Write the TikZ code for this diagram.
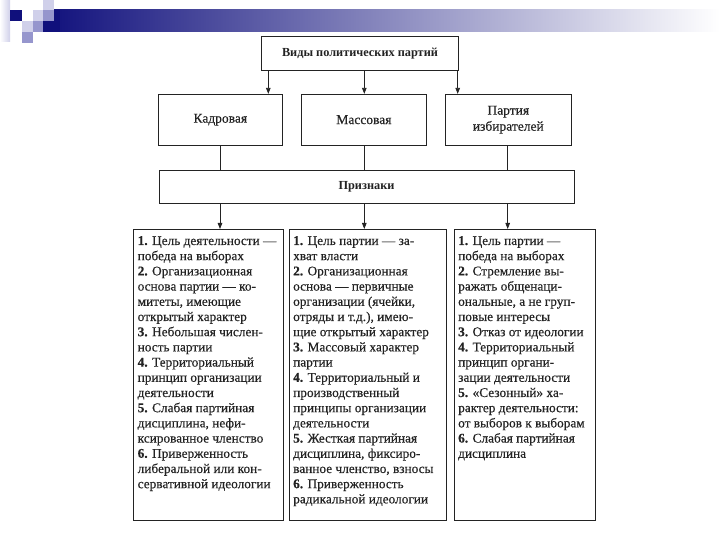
\documentclass[tikz,border=0pt]{standalone}
\usepackage{fontspec}
\setmainfont{Liberation Serif}
\newfontfamily\bodyfont{Liberation Serif}[FakeBold=0.35]
\usetikzlibrary{arrows.meta}
\definecolor{navyC}{RGB}{16,16,124}
\definecolor{lavM}{RGB}{150,150,205}
\definecolor{lavL}{RGB}{208,208,234}
\definecolor{inkC}{RGB}{35,35,35}
\begin{document}
\begin{tikzpicture}[x=1pt,y=-1pt,
  box/.style={draw=inkC, line width=0.9pt, inner sep=0pt, fill=white},
  conn/.style={draw=inkC, line width=0.8pt},
  arr/.style={conn, -{Triangle[length=6pt,width=4.5pt]}},
  head/.style={font=\fontsize{12.3}{14}\selectfont\bfseries, text=inkC},
  lbl/.style={font=\bodyfont\fontsize{13.5}{16}\selectfont, text=inkC, align=center},
  txt/.style={font=\bodyfont\fontsize{13.3}{15.2}\selectfont, text=inkC, align=left, inner sep=0pt, anchor=north west}]
\useasboundingbox (0,0) rectangle (720,540);
\fill[white] (0,0) rectangle (720,540);
% banner
\shade[left color=navyC, right color=white, shading angle=90] (43,10) rectangle (720,32);
\fill[navyC] (43,10) rectangle (60,32);
\shade[left color=white, right color=lavL] (0,0) rectangle (10,42);
\fill[navyC] (10,10) rectangle (22,21);
\fill[lavL] (33,10) rectangle (43,21);
\fill[lavL] (43,0) rectangle (54,10);
\fill[lavM] (43,10) rectangle (54,21);
\fill[lavL] (22,21) rectangle (33,32);
\fill[lavM] (33,21) rectangle (43,32);
\fill[lavM] (22,32) rectangle (33,43);
% top box
\node[box, minimum width=196.6, minimum height=33.3, head] (top) at (360,53.4) {Виды политических партий};
% second row
\node[box, minimum width=124, minimum height=50.7, lbl] (kad) at (220.3,119.7) {Кадровая};
\node[box, minimum width=124.3, minimum height=50.7, lbl] (mas) at (363.9,119.7) {Массовая};
\node[box, minimum width=126.7, minimum height=50.7, lbl] (izb) at (508.3,119.7) {Партия\\избирателей};
% signs box
\node[box, minimum width=415, minimum height=33.3, head] (pri) at (366.5,186.7) {Признаки};
% arrow x positions
\coordinate (a1) at (268.3,0);
\coordinate (a2) at (364.3,0);
\coordinate (a3) at (457.7,0);
\coordinate (c1) at (220,0);
\coordinate (c2) at (364.3,0);
\coordinate (c3) at (507.7,0);
\draw[arr] (top.south -| a1) -- (kad.north -| a1);
\draw[arr] (top.south -| a2) -- (mas.north -| a2);
\draw[arr] (top.south -| a3) -- (izb.north -| a3);
\draw[conn] (kad.south -| c1) -- (pri.north -| c1);
\draw[conn] (mas.south -| c2) -- (pri.north -| c2);
\draw[conn] (izb.south -| c3) -- (pri.north -| c3);
% bottom boxes
\node[box, minimum width=150, minimum height=291, anchor=north west] (b1) at (133,229) {};
\node[box, minimum width=157, minimum height=291, anchor=north west] (b2) at (289,229) {};
\node[box, minimum width=141, minimum height=291, anchor=north west] (b3) at (454,229) {};
\draw[arr] (pri.south -| c1) -- (b1.north -| c1);
\draw[arr] (pri.south -| c2) -- (b2.north -| c2);
\draw[arr] (pri.south -| c3) -- (b3.north -| c3);
\node[txt] (t1) at (137.5,236) {\textbf{1.} Цель деятельности —\\победа на выборах\\\textbf{2.} Организационная\\основа партии — ко-\\митеты, имеющие\\открытый характер\\\textbf{3.} Небольшая числен-\\ность партии\\\textbf{4.} Территориальный\\принцип организации\\деятельности\\\textbf{5.} Слабая партийная\\дисциплина, нефи-\\ксированное членство\\\textbf{6.} Приверженность\\либеральной или кон-\\сервативной идеологии};
\node[txt] (t2) at (293,236) {\textbf{1.} Цель партии — за-\\хват власти\\\textbf{2.} Организационная\\основа — первичные\\организации (ячейки,\\отряды и т.д.), имею-\\щие открытый характер\\\textbf{3.} Массовый характер\\партии\\\textbf{4.} Территориальный и\\производственный\\принципы организации\\деятельности\\\textbf{5.} Жесткая партийная\\дисциплина, фиксиро-\\ванное членство, взносы\\\textbf{6.} Приверженность\\радикальной идеологии};
\node[txt] (t3) at (458,236) {\textbf{1.} Цель партии —\\победа на выборах\\\textbf{2.} Стремление вы-\\ражать общенаци-\\ональные, а не груп-\\повые интересы\\\textbf{3.} Отказ от идеологии\\\textbf{4.} Территориальный\\принцип органи-\\зации деятельности\\\textbf{5.} «Сезонный» ха-\\рактер деятельности:\\от выборов к выборам\\\textbf{6.} Слабая партийная\\дисциплина};
\end{tikzpicture}
\end{document}
